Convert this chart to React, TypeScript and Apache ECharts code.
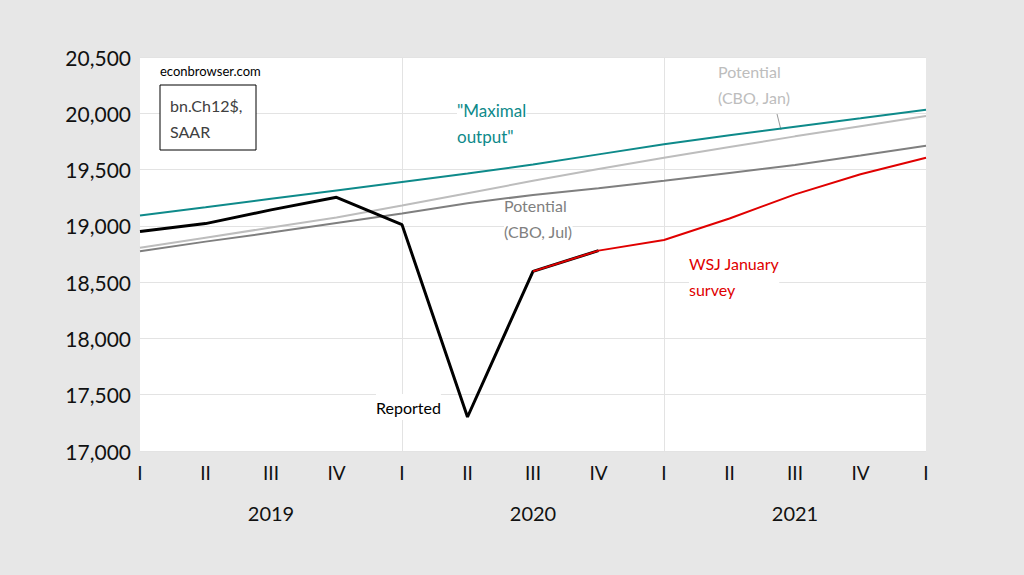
import React, { useEffect, useRef } from "react";
import * as echarts from "echarts";

const quarters = ["I", "II", "III", "IV", "I", "II", "III", "IV", "I", "II", "III", "IV", "I"];
const yearLabels = ["", "", "2019", "", "", "", "2020", "", "", "", "2021", "", ""];
const yTicks = [17000, 17500, 18000, 18500, 19000, 19500, 20000, 20500];

const reported = [18950, 19020, 19142, 19254, 19011, 17302, 18596, 18780, null, null, null, null, null];
const wsjJanuary = [null, null, null, null, null, null, 18596, 18780, 18874, 19065, 19280, 19459, 19605];
const maximalOutput = [19093, 19165, 19240, 19315, 19390, 19465, 19545, 19635, 19725, 19805, 19880, 19955, 20032];
const potentialJan = [18805, 18895, 18985, 19075, 19180, 19290, 19400, 19505, 19605, 19700, 19795, 19885, 19975];
const potentialJul = [18775, 18860, 18940, 19025, 19110, 19200, 19275, 19335, 19400, 19470, 19540, 19625, 19712];

const FONT = "Lato, 'Open Sans', sans-serif";

export default function App() {
  const ref = useRef<HTMLDivElement>(null);
  useEffect(() => {
    if (!ref.current) return;
    const chart = echarts.init(ref.current, null, { renderer: "svg" });
    const lineSeries = (name: string, data: any[], color: string, width: number, z: number) => ({
      name,
      type: "line",
      data,
      symbol: "none",
      connectNulls: false,
      z,
      lineStyle: { color, width },
    });
    const label = (left: number, top: number, text: string, fill: string, fontSize = 16) => ({
      type: "text",
      left,
      top,
      z: 1,
      style: { text, fontSize, lineHeight: 26, fill, fontFamily: FONT, backgroundColor: "#ffffff" },
    });
    chart.setOption({
      animation: false,
      backgroundColor: "#e7e7e7",
      textStyle: { fontFamily: FONT },
      grid: {
        left: 140,
        right: 98,
        top: 57,
        bottom: 124,
        show: true,
        backgroundColor: "#ffffff",
        borderWidth: 0,
      },
      xAxis: [
        {
          type: "category",
          data: quarters,
          boundaryGap: false,
          axisLine: { show: false },
          axisTick: { show: false },
          axisLabel: { color: "#111", fontSize: 19, fontFamily: FONT, margin: 12, interval: 0 },
          splitLine: {
            show: true,
            interval: (i: number) => i === 4 || i === 8,
            lineStyle: { color: "#e3e3e3", width: 1 },
          },
        },
        {
          type: "category",
          data: yearLabels,
          position: "bottom",
          offset: 44,
          boundaryGap: false,
          axisLine: { show: false },
          axisTick: { show: false },
          axisLabel: { color: "#111", fontSize: 20, fontFamily: FONT, interval: 0 },
          splitLine: { show: false },
        },
      ],
      yAxis: {
        type: "value",
        min: yTicks[0],
        max: yTicks[yTicks.length - 1],
        interval: 500,
        axisLine: { show: false },
        axisTick: { show: false },
        axisLabel: {
          color: "#111",
          fontSize: 21,
          fontFamily: FONT,
          margin: 9,
          formatter: (v: number) => v.toLocaleString("en-US"),
        },
        splitLine: { lineStyle: { color: "#e3e3e3", width: 1 } },
      },
      series: [
        lineSeries("Potential (CBO, Jan)", potentialJan, "#bdbdbd", 2, 2),
        lineSeries("Potential (CBO, Jul)", potentialJul, "#7f7f7f", 2, 3),
        lineSeries("Maximal output", maximalOutput, "#0e8a8a", 2, 4),
        lineSeries("Reported", reported, "#000000", 3, 5),
        lineSeries("WSJ January survey", wsjJanuary, "#e00000", 2, 6),
      ],
      graphic: [
        { type: "text", left: 160, top: 64, style: { text: "econbrowser.com", fontSize: 13, fill: "#000", fontFamily: FONT } },
        { type: "rect", shape: { x: 160, y: 85, width: 96, height: 65 }, style: { fill: "#fff", stroke: "#000", lineWidth: 1 }, z: 10 },
        { type: "text", left: 170, top: 92, z: 11, style: { text: "bn.Ch12$,\nSAAR", fontSize: 16, lineHeight: 26, fill: "#404040", fontFamily: FONT } },
        label(457, 97, "\"Maximal\noutput\"", "#0e8a8a", 17),
        label(504, 192, "Potential\n(CBO, Jul)", "#808080"),
        label(718, 58, "Potential\n(CBO, Jan)", "#bdbdbd"),
        { type: "line", shape: { x1: 777, y1: 114, x2: 781, y2: 130 }, style: { stroke: "#999", lineWidth: 1 } },
        label(689, 250, "WSJ January\nsurvey", "#e00000"),
        label(376, 394, "Reported", "#000000"),
      ],
    });
    return () => chart.dispose();
  }, []);
  return <div ref={ref} style={{ position: "fixed", left: 0, top: 0, width: 1024, height: 575 }} />;
}
